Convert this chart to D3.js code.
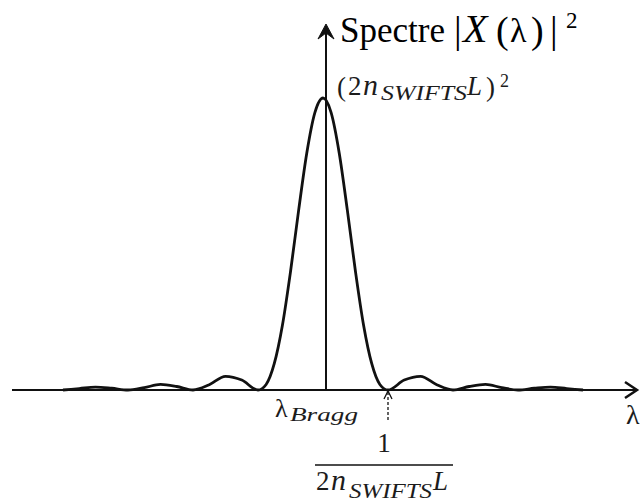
<!DOCTYPE html>
<html>
<head>
<meta charset="utf-8">
<script src="https://cdn.jsdelivr.net/npm/d3@7"></script>
<style>
  html, body { margin: 0; padding: 0; background: #fff; }
  svg { display: block; }
</style>
</head>
<body>
<div id="chart"></div>
<script>
// Wavelength offset from λ_Bragg, in units of 1/(2 n_SWIFTS L)
const lambdaOffset = [
  -4, -3.75, -3.5, -3.25, -3, -2.75, -2.5, -2.25, -2, -1.75, -1.5, -1.25, -1,
  -0.875, -0.75, -0.625, -0.5, -0.375, -0.25, -0.125, 0,
  0.125, 0.25, 0.375, 0.5, 0.625, 0.75, 0.875,
  1, 1.25, 1.5, 1.75, 2, 2.25, 2.5, 2.75, 3, 3.25, 3.5, 3.75, 4
];
// Spectrum |X(λ)|² normalised to its peak (2 n_SWIFTS L)²
const spectrum = [
  0, 0.005, 0.010, 0.006, 0, 0.008, 0.019, 0.012, 0, 0.018, 0.047, 0.034, 0,
  0.019, 0.090, 0.221, 0.405, 0.615, 0.811, 0.950, 1,
  0.950, 0.811, 0.615, 0.405, 0.221, 0.090, 0.019,
  0, 0.034, 0.047, 0.018, 0, 0.012, 0.019, 0.008, 0, 0.006, 0.010, 0.005, 0
];
const axisLabelY = "Spectre";
const axisLabelX = "λ";

const W = 640, H = 503;
const svg = d3.select("#chart").append("svg").attr("width", W).attr("height", H);

const x = d3.scaleLinear().domain([-4, 4]).range([63, 583]);
const y = d3.scaleLinear().domain([0, 1]).range([390, 98]);

const ink = "#111";
const serif = "'Liberation Serif', 'Times New Roman', serif";

// Horizontal axis
const y0 = y(0);
svg.append("line").attr("x1", 12).attr("x2", 637).attr("y1", y0).attr("y2", y0)
  .attr("stroke", ink).attr("stroke-width", 2);
svg.append("path").attr("d", `M625,${y0 - 8} L637,${y0} L625,${y0 + 8}`)
  .attr("fill", "none").attr("stroke", ink).attr("stroke-width", 2.5);

// Vertical axis
const axX = 326;
svg.append("line").attr("x1", axX).attr("x2", axX).attr("y1", y0).attr("y2", 30)
  .attr("stroke", ink).attr("stroke-width", 2);
svg.append("path").attr("d", `M${axX},24 L${axX + 8},39 L${axX},33 L${axX - 8},39 Z`)
  .attr("fill", ink).attr("stroke", ink).attr("stroke-width", 1).attr("stroke-linejoin", "miter");

// Spectrum curve
const line = d3.line()
  .x((d, i) => x(lambdaOffset[i]))
  .y(d => y(d))
  .curve(d3.curveMonotoneX);
svg.append("path").datum(spectrum).attr("d", line)
  .attr("fill", "none").attr("stroke", ink).attr("stroke-width", 2.8)
  .attr("stroke-linejoin", "round");

// Title: Spectre |X(λ)|²
const tcol = "#000";
const gt = svg.append("g").attr("font-family", serif).attr("fill", tcol);
gt.append("text").attr("x", 340).attr("y", 42).attr("font-size", 35).text(axisLabelY);
gt.append("text").attr("x", 454).attr("y", 43).attr("font-size", 38).text("|");
gt.append("text").attr("x", 463).attr("y", 42).attr("font-size", 40).attr("font-style", "italic").text("X");
gt.append("text").attr("x", 496).attr("y", 43).attr("font-size", 38).text("(");
gt.append("text").attr("x", 510).attr("y", 42).attr("font-size", 34).text("λ");
gt.append("text").attr("x", 531).attr("y", 43).attr("font-size", 38).text(")");
gt.append("text").attr("x", 550).attr("y", 43).attr("font-size", 38).text("|");
gt.append("text").attr("x", 566).attr("y", 28).attr("font-size", 23).text("2");

// Peak label (2 n_SWIFTS L)²
const mcol = "#1c1c1c";
const g1 = svg.append("g").attr("font-family", serif).attr("fill", mcol);
g1.append("text").attr("x", 337).attr("y", 96).attr("font-size", 27).text("(");
g1.append("text").attr("x", 348).attr("y", 95).attr("font-size", 27).text("2");
g1.append("text").attr("x", 363).attr("y", 95).attr("font-size", 30).attr("font-style", "italic").text("n");
g1.append("text").attr("x", 381).attr("y", 100).attr("font-size", 20).attr("font-style", "italic")
  .attr("textLength", 86).attr("lengthAdjust", "spacingAndGlyphs").text("SWIFTS");
g1.append("text").attr("x", 467).attr("y", 95).attr("font-size", 27).attr("font-style", "italic").text("L");
g1.append("text").attr("x", 486).attr("y", 96).attr("font-size", 27).text(")");
g1.append("text").attr("x", 500).attr("y", 87).attr("font-size", 18).text("2");

// λ_Bragg
const g2 = svg.append("g").attr("font-family", serif).attr("fill", mcol);
g2.append("text").attr("x", 275).attr("y", 417).attr("font-size", 26).text("λ");
g2.append("text").attr("x", 290).attr("y", 421).attr("font-size", 19).attr("font-style", "italic")
  .attr("textLength", 68).attr("lengthAdjust", "spacingAndGlyphs").text("Bragg");

// Dashed arrow at first zero
const zx = x(1);
svg.append("line").attr("x1", zx).attr("x2", zx).attr("y1", 420).attr("y2", y0 + 2)
  .attr("stroke", ink).attr("stroke-width", 1.3).attr("stroke-dasharray", "3,2");
svg.append("path").attr("d", `M${zx - 4},${y0 + 9} L${zx},${y0 + 1} L${zx + 4},${y0 + 9}`)
  .attr("fill", "none").attr("stroke", ink).attr("stroke-width", 1.3);

// Fraction 1 / (2 n_SWIFTS L)
const g3 = svg.append("g").attr("font-family", serif).attr("fill", mcol);
g3.append("text").attr("x", 384).attr("y", 452).attr("font-size", 27).attr("text-anchor", "middle").text("1");
svg.append("line").attr("x1", 315).attr("x2", 453).attr("y1", 465).attr("y2", 465)
  .attr("stroke", ink).attr("stroke-width", 1.6);
g3.append("text").attr("x", 316).attr("y", 490).attr("font-size", 27).text("2");
g3.append("text").attr("x", 331).attr("y", 490).attr("font-size", 30).attr("font-style", "italic").text("n");
g3.append("text").attr("x", 349).attr("y", 498).attr("font-size", 20).attr("font-style", "italic")
  .attr("textLength", 83).attr("lengthAdjust", "spacingAndGlyphs").text("SWIFTS");
g3.append("text").attr("x", 433).attr("y", 490).attr("font-size", 27).attr("font-style", "italic").text("L");

// x axis label λ
svg.append("text").attr("x", 626).attr("y", 424).attr("font-family", serif)
  .attr("font-size", 28).attr("fill", mcol).text(axisLabelX);
</script>
</body>
</html>
